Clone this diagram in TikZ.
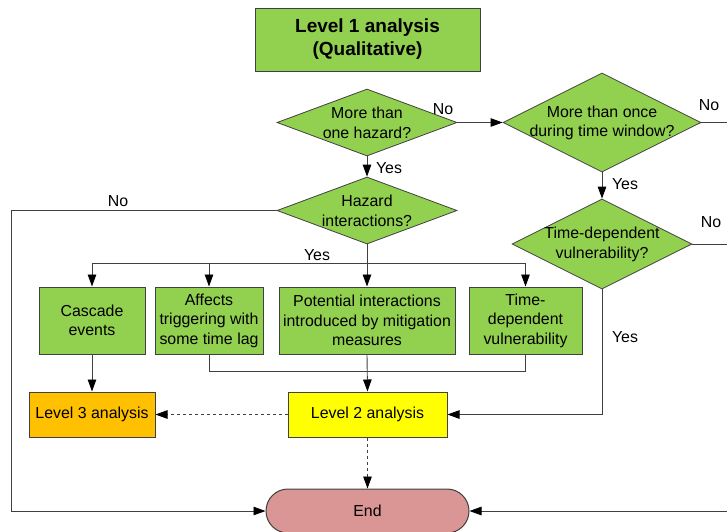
\documentclass[tikz,border=0pt]{standalone}
\usepackage{fontspec}
\setmainfont{Liberation Sans}
\usetikzlibrary{arrows.meta,shapes.geometric}
\definecolor{gfill}{HTML}{92D050}
\definecolor{ofill}{HTML}{FFC000}
\definecolor{yfill}{HTML}{FFFF00}
\definecolor{pfill}{HTML}{D99694}
\definecolor{edge}{HTML}{404040}
\tikzset{
  x=1pt,y=-1pt,
  txt/.style={font=\fontsize{15.9}{19.5}\selectfont,align=center,text=black},
  gbox/.style={draw=edge,line width=1pt,fill=gfill,inner sep=0,txt},
  dmd/.style={diamond,draw=edge,line width=0.8pt,fill=gfill,inner sep=0,aspect=2},
  arr/.style={draw=black!75,line width=0.9pt,-{Triangle[length=12pt,width=8.5pt,color=black]}},
  ln/.style={draw=black!75,line width=0.9pt},
  lab/.style={txt,inner sep=0},
}
\begin{document}
\begin{tikzpicture}
\useasboundingbox (0,0) rectangle (727,531);
\clip (0,0) rectangle (727,531);
% title
\node[gbox,minimum width=225pt,minimum height=63pt,font=\fontsize{19}{23}\selectfont\bfseries] (title) at (367.5,39.5) {Level 1 analysis\\(Qualitative)};
% diamonds
\node[dmd,minimum width=180pt,minimum height=67pt] (d1) at (367,122.5) {};
\node[lab] (d1t) at (367,123) {More than\\one hazard?};
\node[dmd,minimum width=198pt,minimum height=99pt] (d2) at (602,122.5) {};
\node[lab] (d2t) at (602,123) {More than once\\during time window?};
\node[dmd,minimum width=180pt,minimum height=67pt] (d3) at (367,210.5) {};
\node[lab] (d3t) at (367,211) {Hazard\\interactions?};
\node[dmd,minimum width=180pt,minimum height=90pt] (d4) at (602,244) {};
\node[lab] (d4t) at (602,244.5) {Time-dependent\\vulnerability?};
% boxes
\node[gbox,minimum width=106pt,minimum height=67pt] (casc) at (92,320.5) {Cascade\\events};
\node[gbox,minimum width=108pt,minimum height=67pt] (aff) at (209,320.5) {Affects\\triggering with\\some time lag};
\node[gbox,minimum width=176pt,minimum height=67pt] (pot) at (367,320.5) {Potential interactions\\introduced by mitigation\\measures};
\node[gbox,minimum width=113pt,minimum height=67pt] (tdv) at (525.5,320.5) {Time-\\dependent\\vulnerability};
\node[gbox,fill=ofill,minimum width=126pt,minimum height=45pt] (l3) at (92,414.5) {\raisebox{-1.5pt}{Level 3 analysis}};
\node[gbox,fill=yfill,minimum width=159pt,minimum height=45pt] (l2) at (367.5,414.5) {\raisebox{-1.5pt}{Level 2 analysis}};
\node[gbox,fill=pfill,rounded corners=22pt,minimum width=203pt,minimum height=44pt] (end) at (367.5,511) {\raisebox{-1pt}{End}};
% coordinates
\coordinate (bus) at (367,263);
\coordinate (mrg) at (367,371);
\coordinate (lc) at (11,210.5);
\coordinate (rc) at (745,122.5);
% connectors
\draw[arr] (d1.east) -- (d2.west);
\draw[arr] (d1.south) -- (d3.north);
\draw[arr] (d2.south) -- (d4.north);
\draw[arr] (d3.south) -- (pot.north);
\draw[arr] (bus) -| (casc.north);
\draw[arr] (bus) -| (aff.north);
\draw[arr] (bus) -| (tdv.north);
\draw[ln] (aff.south) -- (aff.south |- mrg) -- (tdv.south |- mrg) -- (tdv.south);
\draw[arr] (pot.south) -- (l2.north);
\draw[arr] (casc.south) -- (l3.north);
\draw[arr] (d4.south) |- (l2.east);
\draw[arr,dashed] (l2.west) -- (l3.east);
\draw[arr,dashed] (l2.south) -- (end.north);
\draw[arr] (d3.west) -- (lc) |- (end.west);
\draw[arr] (d2.east) -- (rc) |- (end.east);
\draw[ln] (d4.east) -- (d4.east -| rc);
% labels
\node[lab] (n1) at (443,109) {No};
\node[lab] (n2) at (709,105) {No};
\node[lab] (n3) at (711,222.5) {No};
\node[lab] (n4) at (118,201) {No};
\node[lab] (y1) at (389,168) {Yes};
\node[lab] (y2) at (625,184) {Yes};
\node[lab] (y3) at (625,337) {Yes};
\node[lab] (y4) at (317,255) {Yes};
\end{tikzpicture}
\end{document}
